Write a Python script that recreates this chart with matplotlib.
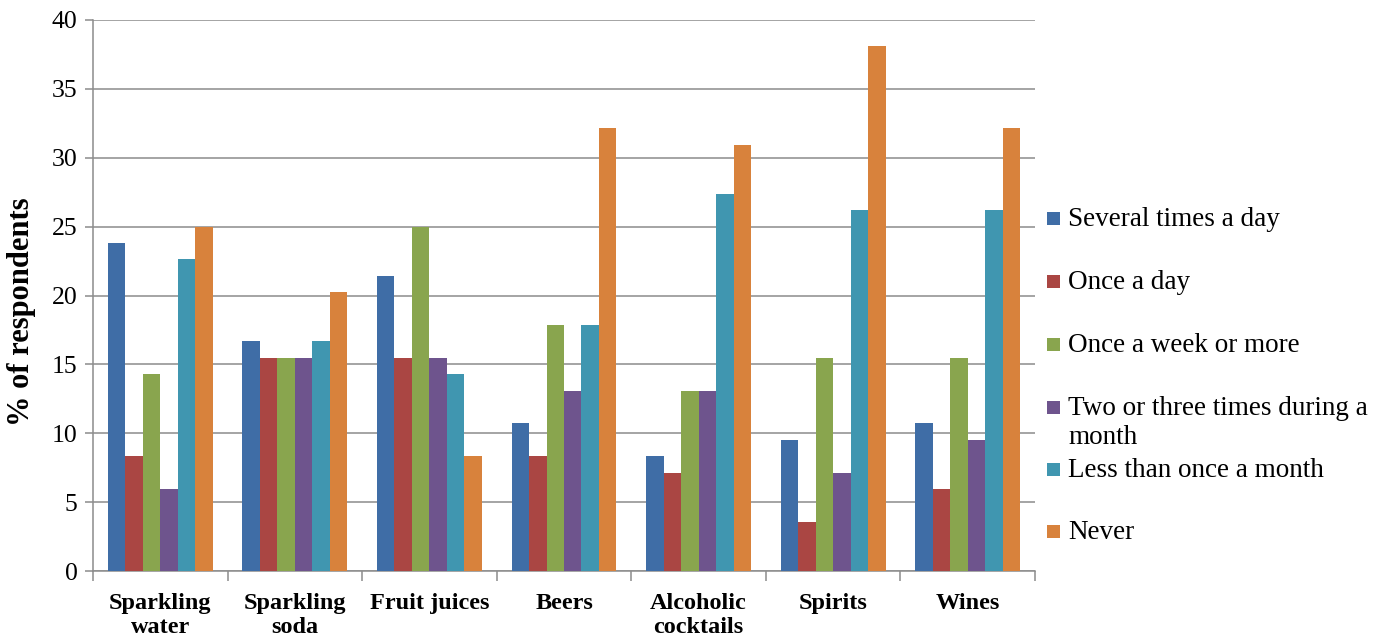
import matplotlib
matplotlib.use("Agg")
import matplotlib.pyplot as plt
from matplotlib.patches import Rectangle
import numpy as np

categories = ["Sparkling\nwater", "Sparkling\nsoda", "Fruit juices", "Beers",
              "Alcoholic\ncocktails", "Spirits", "Wines"]
series_names = ["Several times a day", "Once a day", "Once a week or more",
                "Two or three times during a\nmonth", "Less than once a month", "Never"]
several_times_a_day = [23.81, 16.67, 21.43, 10.71, 8.33, 9.52, 10.71]
once_a_day = [8.33, 15.48, 15.48, 8.33, 7.14, 3.57, 5.95]
once_a_week_or_more = [14.29, 15.48, 25.00, 17.86, 13.10, 15.48, 15.48]
two_three_times_month = [5.95, 15.48, 15.48, 13.10, 13.10, 7.14, 9.52]
less_than_once_month = [22.62, 16.67, 14.29, 17.86, 27.38, 26.19, 26.19]
never = [25.00, 20.24, 8.33, 32.14, 30.95, 38.10, 32.14]
yticks = [0, 5, 10, 15, 20, 25, 30, 35, 40]

series = [several_times_a_day, once_a_day, once_a_week_or_more,
          two_three_times_month, less_than_once_month, never]
colors = ["#3F6DA6", "#AA4643", "#89A54E", "#6E548D", "#4096B0", "#D8823C"]

plt.rcParams['font.family'] = ['Liberation Serif', 'DejaVu Serif']

W, H = 1384, 641
fig = plt.figure(figsize=(W / 100, H / 100), dpi=100)
L, R, T, B = 93, 1035, 20, 571
ax = fig.add_axes([L / W, 1 - B / H, (R - L) / W, (B - T) / H])

x = np.arange(len(categories))
bw = 0.13
for i, (vals, c) in enumerate(zip(series, colors)):
    ax.bar(x + (i - 2.5) * bw, vals, width=bw, color=c, edgecolor='none', zorder=3)

ax.set_xlim(-0.5, len(categories) - 0.5)
ax.set_ylim(0, 40)
ax.set_yticks(yticks)
ax.set_yticklabels([str(t) for t in yticks], fontsize=18.5)
ax.yaxis.grid(True, color='#8C8C8C', linewidth=1.1, zorder=0)
ax.set_axisbelow(True)

ax.set_xticks(x)
ax.set_xticklabels(categories, fontsize=17.5, fontweight='bold', linespacing=1.2)
ax.tick_params(axis='x', length=0, pad=16)
ax.set_xticks(np.arange(-0.5, len(categories)), minor=True)
ax.tick_params(axis='x', which='minor', length=7, color='#8C8C8C', width=1.1)
ax.tick_params(axis='y', length=6, color='#8C8C8C', width=1.1, pad=5)

for s in ['top', 'right']:
    ax.spines[s].set_visible(False)
for s in ['left', 'bottom']:
    ax.spines[s].set_color('#8C8C8C')
    ax.spines[s].set_linewidth(1.1)

fig.text(22 / W, 1 - 312 / H, "% of respondents", rotation=90, ha='center', va='center',
         fontsize=22, fontweight='bold')

# legend
leg_y = [218, 281, 344, 407, 469, 531]
for name, c, yy in zip(series_names, colors, leg_y):
    fig.patches.append(Rectangle((1047 / W, 1 - (yy + 6.5) / H), 13 / W, 13 / H,
                                 transform=fig.transFigure, facecolor=c, edgecolor='none'))
    fig.text(1068 / W, 1 - (yy - 11) / H, name, ha='left', va='top', fontsize=19.5,
             linespacing=1.22)

fig.savefig("out.png", dpi=100)
